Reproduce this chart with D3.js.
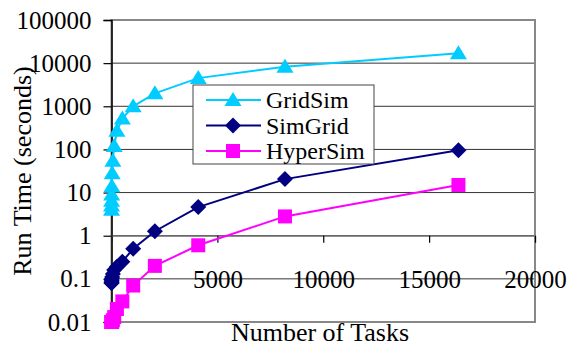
<!DOCTYPE html>
<html>
<head>
<meta charset="utf-8">
<script src="https://cdn.jsdelivr.net/npm/d3@7"></script>
<style>
  body { margin: 0; background: #fff; }
  svg text { font-family: "Times New Roman", "Liberation Serif", Tinos, "DejaVu Serif", serif; fill: #000; }
</style>
</head>
<body>
<div id="chart"></div>
<script>
// data
var tasks = [1, 2, 4, 8, 16, 32, 64, 128, 256, 512, 1024, 2048, 4096, 8192, 16384];
var gridSim = [4, 5, 6.5, 9, 14, 28, 55, 120, 270, 520, 1000, 2000, 4500, 8300, 17000];
var simGrid = [0.08, 0.08, 0.085, 0.09, 0.1, 0.11, 0.13, 0.16, 0.19, 0.25, 0.5, 1.27, 4.6, 20.5, 96];
var hyperSim = [0.01, 0.01, 0.01, 0.01, 0.01, 0.01, 0.011, 0.013, 0.02, 0.03, 0.07, 0.2, 0.6, 2.8, 15];
var yTicks = [0.01, 0.1, 1, 10, 100, 1000, 10000, 100000];
var xTicks = [0, 5000, 10000, 15000, 20000];
var seriesNames = ["GridSim", "SimGrid", "HyperSim"];
var seriesColors = ["#00ccff", "#000080", "#ff00ff"];
var fontFam = '"Times New Roman", "Liberation Serif", Tinos, "DejaVu Serif", serif';

var width = 569, height = 350;
var plot = {left: 111.5, right: 535, top: 20, bottom: 322};

var svg = d3.select("#chart").append("svg")
  .attr("width", width).attr("height", height);

var x = d3.scaleLinear().domain([0, 20000]).range([plot.left, plot.right]);
var y = d3.scaleLog().domain([0.01, 100000]).range([plot.bottom, plot.top]);

//marker drawing: triangle, diamond (rotated square), square
function marker(sel, i) {
  if (i == 0) {
    sel.append("path").attr("d", "M0,-8L8.5,6L-8.5,6Z");
  } else if (i == 1) {
    sel.append("path").attr("d", "M0,-8L8,0L0,8L-8,0Z");
  } else {
    sel.append("path").attr("d", "M-7,-7L7,-7L7,7L-7,7Z");
  }
}

//gridlines
svg.append("g").selectAll("line")
  .data(yTicks.slice(1, -1))
  .enter().append("line")
  .attr("x1", plot.left).attr("x2", plot.right)
  .attr("y1", d => y(d)).attr("y2", d => y(d))
  .attr("stroke", "#333").attr("stroke-width", 1);

//plot border
svg.append("rect")
  .attr("x", plot.left).attr("y", plot.top)
  .attr("width", plot.right - plot.left).attr("height", plot.bottom - plot.top)
  .attr("fill", "none").attr("stroke", "#888").attr("stroke-width", 2);

//y axis
var yAxis = d3.axisLeft(y).tickValues(yTicks).tickFormat(d => String(d)).tickSize(8).tickPadding(12);
var gy = svg.append("g").attr("transform", "translate(" + plot.left + ",0)").call(yAxis)
  .attr("font-family", fontFam);
gy.select(".domain").attr("stroke", "#000").attr("stroke-width", 1.5);
gy.selectAll(".tick line").attr("stroke", "#000").attr("stroke-width", 1.2);
gy.selectAll("text").style("font-size", "25px");

//x axis crosses at 1
var xAxis = d3.axisBottom(x).tickValues(xTicks).tickFormat(d => String(d)).tickSize(7).tickPadding(28);
var gx = svg.append("g").attr("transform", "translate(0," + y(1) + ")").call(xAxis)
  .attr("font-family", fontFam);
gx.select(".domain").attr("stroke", "#777").attr("stroke-width", 1.2);
gx.selectAll(".tick line").attr("stroke", "#000").attr("stroke-width", 1.2);
gx.selectAll("text").style("font-size", "25px");

//series
var allSeries = [gridSim, simGrid, hyperSim];
var line = d3.line().x(d => x(d[0])).y(d => y(d[1]));

allSeries.forEach(function(vals, i) {
  var pts = tasks.map((t, j) => [t, vals[j]]);
  svg.append("path")
    .datum(pts)
    .attr("d", line)
    .attr("fill", "none")
    .attr("stroke", seriesColors[i])
    .attr("stroke-width", 2);
  svg.append("g").attr("fill", seriesColors[i]).selectAll("g")
    .data(pts)
    .enter().append("g")
    .attr("transform", d => "translate(" + x(d[0]) + "," + y(d[1]) + ")")
    .each(function() { marker(d3.select(this), i); });
});

//legend
var legend = svg.append("g").attr("transform", "translate(193,85)");
legend.append("rect")
  .attr("width", 181).attr("height", 79)
  .attr("fill", "#fff").attr("stroke", "#444").attr("stroke-width", 1);
seriesNames.forEach(function(name, i) {
  var cy = 15 + i * 25.5;
  legend.append("line")
    .attr("x1", 13).attr("x2", 68).attr("y1", cy).attr("y2", cy)
    .attr("stroke", seriesColors[i]).attr("stroke-width", 2);
  var m = legend.append("g").attr("fill", seriesColors[i])
    .attr("transform", "translate(40," + cy + ")");
  marker(m, i);
  legend.append("text")
    .attr("x", 73).attr("y", cy + 8)
    .style("font-size", "24px")
    .text(name);
});

//axis titles
svg.append("text")
  .attr("x", 320).attr("y", 341)
  .attr("text-anchor", "middle")
  .style("font-size", "26px")
  .text("Number of Tasks");

svg.append("text")
  .attr("transform", "translate(31,171) rotate(-90)")
  .attr("text-anchor", "middle")
  .style("font-size", "26px")
  .text("Run Time (seconds)");
</script>
</body>
</html>
